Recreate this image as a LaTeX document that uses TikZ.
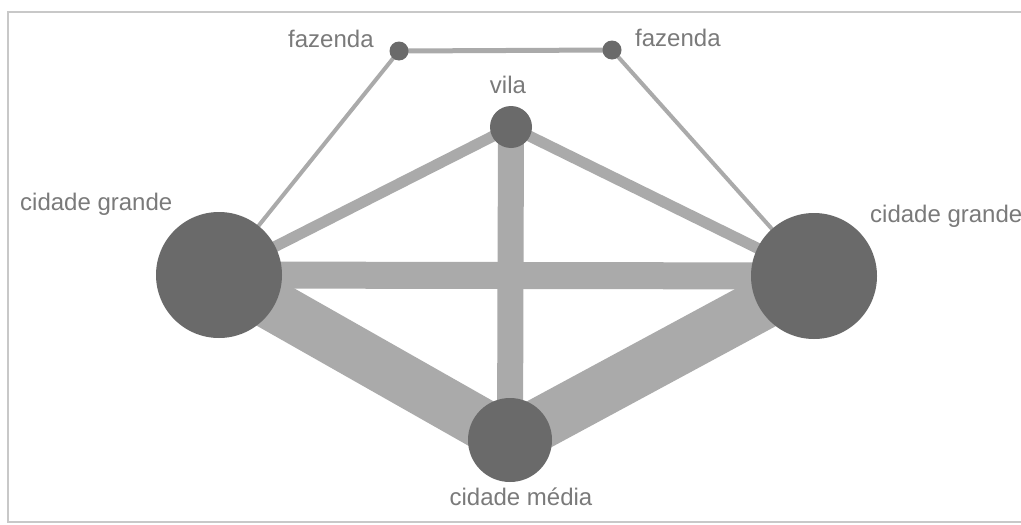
\documentclass[tikz,border=0pt]{standalone}
\usepackage{fontspec}
\setmainfont{Liberation Sans}
\usetikzlibrary{backgrounds}
\definecolor{nodegray}{HTML}{6A6A6A}
\definecolor{edgegray}{HTML}{AAAAAA}
\definecolor{textgray}{HTML}{7A7A7A}
\definecolor{framegray}{HTML}{C8C8C8}
\tikzset{
  town/.style={circle, fill=nodegray, draw=none, inner sep=0pt},
  lbl/.style={text=textgray, font=\fontsize{24}{28}\selectfont, inner sep=0pt},
  road/.style={draw=edgegray, line cap=butt},
}
\begin{document}
\begin{tikzpicture}[x=1pt,y=-1pt]
\useasboundingbox (0,0) rectangle (1021,525);

% nodes
\node[town, minimum size=126pt] (L) at (219,275) {};
\node[town, minimum size=126pt] (R) at (814,276) {};
\node[town, minimum size=42pt] (V) at (511,127) {};
\node[town, minimum size=84pt] (M) at (510,440) {};
\node[town, minimum size=19pt] (F1) at (399,51) {};
\node[town, minimum size=19pt] (F2) at (612,50) {};

% connectors
\begin{scope}[on background layer]
\fill[white] (0,0) rectangle (1021,525);
\draw[framegray, line width=2pt] (8,12) rectangle (1032,522);
\draw[road, line width=5pt] (F1.center) -- (F2.center);
\draw[road, line width=4pt] (F1.center) -- (L.center);
\draw[road, line width=4pt] (F2.center) -- (R.center);
\draw[road, line width=11pt] (V.center) -- (L.center);
\draw[road, line width=11pt] (V.center) -- (R.center);
\draw[road, line width=26pt] (V.center) -- (M.center);
\draw[road, line width=27pt] (L.center) -- (R.center);
\draw[road, line width=51pt] (L.center) -- (M.center);
\draw[road, line width=52pt] (R.center) -- (M.center);
\end{scope}

% labels
\node[lbl, anchor=base west] (tF1) at (288,47) {fazenda};
\node[lbl, anchor=base west] (tF2) at (635,46) {fazenda};
\node[lbl, anchor=base] (tV) at (508,93) {vila};
\node[lbl, anchor=base west] (tL) at (20,210) {cidade grande};
\node[lbl, anchor=base west] (tR) at (870,222) {cidade grande};
\node[lbl, anchor=base] (tM) at (521,505) {cidade média};
\end{tikzpicture}
\end{document}
